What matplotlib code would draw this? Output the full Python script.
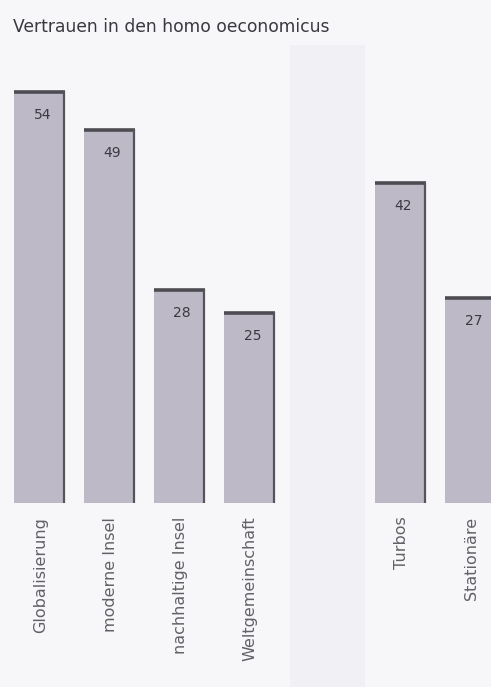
import matplotlib
matplotlib.use("Agg")
import matplotlib.pyplot as plt
from matplotlib.patches import Rectangle
from matplotlib.transforms import blended_transform_factory

title = "Vertrauen in den homo oeconomicus"
categories = ["Globalisierung", "moderne Insel", "nachhaltige Insel", "Weltgemeinschaft", "Turbos", "Stationäre"]
values = [54, 49, 28, 25, 42, 27]
groups = [0, 0, 0, 0, 1, 1]

plt.rcParams['font.family'] = ['DejaVu Sans']

W, H = 491, 687
fig = plt.figure(figsize=(W / 100, H / 100), dpi=100)
fig.patch.set_facecolor('#f7f6f9')

# subtle greyer band between the two groups
fig.patches.append(Rectangle((290 / W, 0), 75 / W, (H - 45) / H, transform=fig.transFigure,
                             facecolor='#f1f0f4', edgecolor='none', zorder=0))

ax = fig.add_axes([0, 184 / H, 1, 457.8 / H])
ax.set_facecolor('none')
gap = 1.16
xs = [i + g * gap for i, g in enumerate(groups)]
width = 0.73

ax.bar(xs, values, width=width, color='#bdb9c6', edgecolor='none', zorder=2)
for x, v in zip(xs, values):
    ax.plot([x - width / 2, x + width / 2], [v - 0.12, v - 0.12], color='#4d4c52', lw=2.6,
            solid_capstyle='butt', zorder=3)
    ax.plot([x + width / 2 - 0.015, x + width / 2 - 0.015], [0, v], color='#55545b', lw=1.6,
            solid_capstyle='butt', zorder=3)
    ax.text(x + 0.04, v - 3.1, f"{v}", ha='center', va='center', fontsize=10, color='#3a3940', zorder=4)

tr = blended_transform_factory(ax.transData, ax.transAxes)
for x, c in zip(xs, categories):
    ax.text(x + 0.01, -0.03, c, rotation=90, ha='center', va='top', fontsize=11.5,
            color='#626167', transform=tr)

ax.set_xlim(-39.5 / 70, (W - 39.5) / 70)
ax.set_ylim(0, 60)
ax.axis('off')

fig.text(13 / W, 1 - 27 / H, title, ha='left', va='center', fontsize=12.3, color='#3a3940')

fig.savefig('out.png', dpi=100, facecolor=fig.get_facecolor())
